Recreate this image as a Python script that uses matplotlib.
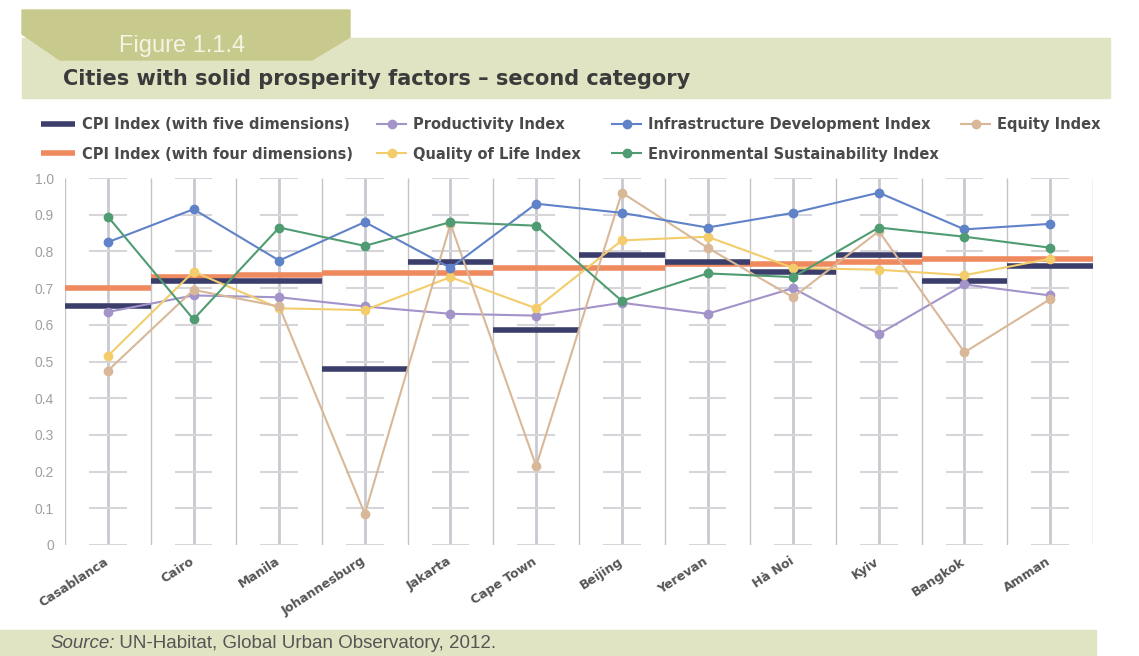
import matplotlib
matplotlib.use('Agg')
import matplotlib.pyplot as plt
import matplotlib.transforms as mtransforms
from matplotlib.patches import Polygon, Rectangle
import numpy as np

plt.rcParams['font.family'] = ['DejaVu Sans']

# data
cities = ['Casablanca', 'Cairo', 'Manila', 'Johannesburg', 'Jakarta', 'Cape Town',
          'Beijing', 'Yerevan', 'Hà Noi', 'Kyiv', 'Bangkok', 'Amman']
cpi5 = [0.65, 0.72, 0.72, 0.48, 0.77, 0.585, 0.79, 0.77, 0.745, 0.79, 0.72, 0.76]
cpi4 = [0.70, 0.73, 0.735, 0.74, 0.74, 0.755, 0.755, 0.765, 0.765, 0.77, 0.78, 0.78]
productivity = [0.635, 0.68, 0.675, 0.65, 0.63, 0.625, 0.66, 0.63, 0.70, 0.575, 0.71, 0.68]
quality = [0.515, 0.745, 0.645, 0.64, 0.73, 0.645, 0.83, 0.84, 0.755, 0.75, 0.735, 0.78]
infrastructure = [0.825, 0.915, 0.775, 0.88, 0.755, 0.93, 0.905, 0.865, 0.905, 0.96, 0.86, 0.875]
environment = [0.895, 0.615, 0.865, 0.815, 0.88, 0.87, 0.665, 0.74, 0.73, 0.865, 0.84, 0.81]
equity = [0.475, 0.695, 0.65, 0.085, 0.875, 0.215, 0.96, 0.81, 0.675, 0.855, 0.525, 0.67]
yticks = [0, 0.1, 0.2, 0.3, 0.4, 0.5, 0.6, 0.7, 0.8, 0.9, 1.0]
ytick_labels = ['0', '0.1', '0.2', '0.3', '0.4', '0.5', '0.6', '0.7', '0.8', '0.9', '1.0']

W, H = 1139, 656
fig = plt.figure(figsize=(W / 100, H / 100), dpi=100)
fig.patch.set_facecolor('white')


def fx(px):
    return px / W


def fy(py):
    return 1 - py / H


# header band and tab
fig.patches.append(Rectangle((fx(22), fy(98)), fx(1110) - fx(22), 60 / H,
                             transform=fig.transFigure, color='#e1e4c2', zorder=-1))
tab = [(22, 10), (350, 10), (350, 37), (312, 60), (60, 60), (22, 34)]
fig.patches.append(Polygon([(fx(a), fy(b)) for a, b in tab], closed=True,
                           transform=fig.transFigure, color='#c7ca8c', zorder=-1))
fig.text(fx(119), fy(46), 'Figure 1.1.4', color='#f4f4e2', fontsize=17,
         va='center', ha='left', family='Liberation Sans')
fig.text(fx(63), fy(79), 'Cities with solid prosperity factors – second category',
         color='#3b3b3b', fontsize=15, fontweight='bold', va='center', ha='left')

# footer band
fig.patches.append(Rectangle((0, 0), fx(1096), 26 / H, transform=fig.transFigure,
                             color='#e1e4c2', zorder=-1))

ax = fig.add_axes([fx(65), fy(545), fx(1093) - fx(65), (545 - 178) / H])
x = np.arange(len(cities))

# grid: centre posts, separators, short ticks
ax.vlines(x, 0, 1.0, color='#c9c9cf', lw=2, zorder=1)
ax.vlines(np.arange(len(cities) + 1) - 0.5, 0, 1.0, color='#c4c4c4', lw=1, zorder=1)
for xi in x:
    ax.hlines(yticks, xi - 0.22, xi + 0.22, color='#d6d6da', lw=1.5, zorder=1)

h4 = ax.hlines(cpi4, x - 0.5, x + 0.5, color='#ef8a5e', lw=4, zorder=3,
               label='CPI Index (with four dimensions)')
h5 = ax.hlines(cpi5, x - 0.5, x + 0.5, color='#3b3d6b', lw=4, zorder=3,
               label='CPI Index (with five dimensions)')

style = dict(lw=1.5, marker='o', ms=6, zorder=4, clip_on=False)
lp, = ax.plot(x, productivity, color='#a293c9', label='Productivity Index', **style)
lq, = ax.plot(x, quality, color='#f3cd6b', label='Quality of Life Index', **style)
le, = ax.plot(x, equity, color='#d8b898', label='Equity Index', **style)
li, = ax.plot(x, infrastructure, color='#5f82c8', label='Infrastructure Development Index', **style)
lg, = ax.plot(x, environment, color='#509c72', label='Environmental Sustainability Index', **style)

ax.set_xlim(-0.5, len(cities) - 0.5)
ax.set_ylim(0, 1.0)
for s in ax.spines.values():
    s.set_visible(False)
ax.set_yticks(yticks)
ax.set_yticklabels(ytick_labels, color='#a0a0a0', fontsize=10, family='Liberation Sans')
ax.tick_params(axis='y', length=0, pad=8)
ax.set_xticks(x)
ax.set_xticklabels(cities, rotation=33, ha='right', rotation_mode='anchor',
                   fontsize=9, fontweight='bold', color='#555555')
ax.tick_params(axis='x', length=0, pad=7)
shift = mtransforms.ScaledTranslation(-3 / 72, 0, fig.dpi_scale_trans)
for lab in ax.get_xticklabels():
    lab.set_transform(lab.get_transform() + shift)

# legend, four columns placed like the original
legend_cols = [([h5, h4], 41, 2.3), ([lp, lq], 377, 2.0), ([li, lg], 612, 2.0), ([le], 961, 2.0)]
for handles, px, hl in legend_cols:
    leg = fig.legend(handles=handles, loc='upper left',
                     bbox_to_anchor=(fx(px), fy(117)), frameon=False,
                     borderpad=0, borderaxespad=0, handletextpad=0.5,
                     labelspacing=1.0, handlelength=hl, numpoints=1,
                     prop={'size': 10.5, 'weight': 'bold'})
    for t in leg.get_texts():
        t.set_color('#4a4a4a')

t1 = fig.text(fx(50), fy(643), 'Source:', fontsize=13.5, style='italic',
              color='#555555', va='center', ha='left', family='Liberation Sans')
ax.annotate(' UN-Habitat, Global Urban Observatory, 2012.', xy=(1, 0.5),
            xycoords=t1, va='center', ha='left', fontsize=13.5, color='#555555',
            family='Liberation Sans', annotation_clip=False)

plt.savefig('out.png', dpi=100)
plt.close()
